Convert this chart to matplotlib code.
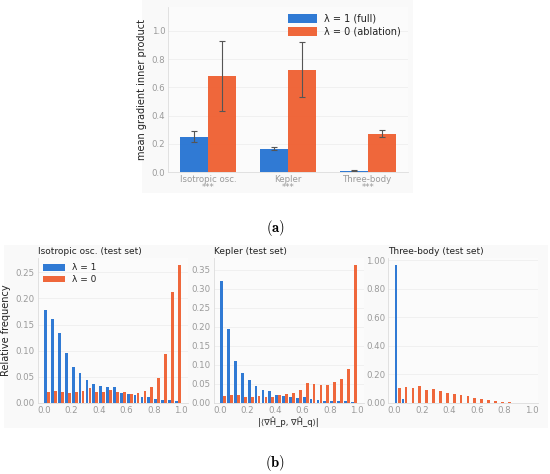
import numpy as np
import matplotlib
matplotlib.use("Agg")
import matplotlib.pyplot as plt
from matplotlib.patches import Rectangle

# ---- panel (a): mean gradient inner product ----
systems = ["Isotropic osc.", "Kepler", "Three-body"]
stars = ["***", "***", "***"]
full_mean = [0.25, 0.165, 0.010]
full_lo = [0.215, 0.155, 0.007]
full_hi = [0.290, 0.180, 0.013]
abl_mean = [0.68, 0.725, 0.27]
abl_lo = [0.435, 0.530, 0.250]
abl_hi = [0.930, 0.920, 0.295]

# ---- panel (b): histograms of |<grad H_p, grad H_q>| ----
bin_left = [i * 0.05 for i in range(20)]
iso_full = [0.177, 0.161, 0.134, 0.095, 0.068, 0.057, 0.044, 0.037, 0.032, 0.031,
            0.030, 0.020, 0.018, 0.015, 0.012, 0.011, 0.008, 0.006, 0.005, 0.003]
iso_abl = [0.021, 0.022, 0.021, 0.019, 0.021, 0.023, 0.028, 0.021, 0.021, 0.025,
           0.021, 0.021, 0.018, 0.019, 0.023, 0.030, 0.048, 0.093, 0.213, 0.264]
kep_full = [0.321, 0.194, 0.111, 0.080, 0.061, 0.046, 0.033, 0.031, 0.022, 0.018,
            0.017, 0.012, 0.015, 0.011, 0.007, 0.005, 0.004, 0.004, 0.004, 0.003]
kep_abl = [0.018, 0.021, 0.020, 0.017, 0.017, 0.018, 0.017, 0.016, 0.020, 0.024,
           0.025, 0.035, 0.052, 0.049, 0.047, 0.047, 0.054, 0.064, 0.090, 0.363]
tb_full = [0.967, 0.030, 0, 0, 0, 0, 0, 0, 0, 0,
           0, 0, 0, 0, 0, 0, 0, 0, 0, 0]
tb_abl = [0.105, 0.114, 0.103, 0.119, 0.089, 0.100, 0.082, 0.070, 0.061, 0.054,
          0.049, 0.037, 0.026, 0.019, 0.014, 0.009, 0.005, 0.003, 0.001, 0.0]

BLUE = "#1f6fd1"
ORANGE = "#ef5a2a"
TICK_C = "#9a9a9a"
TXT_C = "#222222"
BG = "#f9f9f9"

plt.rcParams["font.family"] = "DejaVu Sans"
plt.rcParams["mathtext.fontset"] = "cm"

W, H = 550, 474
fig = plt.figure(figsize=(W / 100, H / 100), dpi=100, facecolor="white")


def px_box(x0, y0, x1, y1):
    # pixel box (top-left origin) -> figure fraction [l, b, w, h]
    return [x0 / W, 1 - y1 / H, (x1 - x0) / W, (y1 - y0) / H]


# light panel backgrounds
for (x0, y0, x1, y1) in [(142, 0, 413, 193), (4, 245, 548, 428)]:
    l, b, w, h = px_box(x0, y0, x1, y1)
    fig.patches.append(Rectangle((l, b), w, h, transform=fig.transFigure,
                                 facecolor=BG, edgecolor="none", zorder=-10))


def style(ax, fs):
    ax.set_facecolor("#fbfbfb")
    for s in ["top", "right"]:
        ax.spines[s].set_visible(False)
    for s in ["left", "bottom"]:
        ax.spines[s].set_color("#dddddd")
        ax.spines[s].set_linewidth(0.6)
    ax.tick_params(colors=TICK_C, labelsize=fs, length=0, pad=2)
    ax.grid(axis="y", color="#eeeeee", linewidth=0.6)
    ax.set_axisbelow(True)


# ---- top panel ----
ax = fig.add_axes(px_box(168, 7, 408, 172))
style(ax, 6.2)
x = np.arange(len(systems))
bw = 0.35
ax.bar(x - bw / 2, full_mean, bw, color=BLUE, alpha=0.92, label="λ = 1 (full)")
ax.bar(x + bw / 2, abl_mean, bw, color=ORANGE, alpha=0.92, label="λ = 0 (ablation)")
ferr = [np.array(full_mean) - np.array(full_lo), np.array(full_hi) - np.array(full_mean)]
aerr = [np.array(abl_mean) - np.array(abl_lo), np.array(abl_hi) - np.array(abl_mean)]
ax.errorbar(x - bw / 2, full_mean, yerr=ferr, fmt="none", ecolor="#555555",
            elinewidth=0.8, capsize=2.5, capthick=0.8)
ax.errorbar(x + bw / 2, abl_mean, yerr=aerr, fmt="none", ecolor="#555555",
            elinewidth=0.8, capsize=2.5, capthick=0.8)
ax.set_xlim(-0.5, 2.5)
ax.set_ylim(0, 1.17)
ax.set_yticks([0.0, 0.2, 0.4, 0.6, 0.8, 1.0])
ax.set_yticklabels(["0.0", "0.2", "0.4", "0.6", "0.8", "1.0"])
ax.set_xticks(x)
ax.set_xticklabels([f"{s}\n{st}" for s, st in zip(systems, stars)], linespacing=0.9)
ax.set_ylabel("mean gradient inner product", fontsize=7, color=TXT_C, labelpad=3)
ax.legend(loc="upper right", frameon=False, fontsize=7, handlelength=2.9,
          handleheight=1.0, labelspacing=0.3, borderaxespad=0.3,
          labelcolor=TXT_C)

fig.text(275 / W, 1 - 228 / H, r"$(\mathbf{a})$", ha="center", va="center", fontsize=10.5)

# ---- bottom panels ----
panels = [
    ("Isotropic osc. (test set)", iso_full, iso_abl, 37.5, [0, 0.05, 0.10, 0.15, 0.20, 0.25], "%.2f"),
    ("Kepler (test set)", kep_full, kep_abl, 213.5, [0, 0.05, 0.10, 0.15, 0.20, 0.25, 0.30, 0.35], "%.2f"),
    ("Three-body (test set)", tb_full, tb_abl, 388, [0, 0.2, 0.4, 0.6, 0.8, 1.0], "%.2f"),
]
edges = np.array(bin_left)
for i, (title, full, abl, left, yt, fmt) in enumerate(panels):
    a = fig.add_axes(px_box(left, 258, left + 150, 403))
    style(a, 6.2)
    hw = 0.02
    a.bar(edges + 0.025 - 0.011, full, hw, color=BLUE, alpha=0.92, label="λ = 1")
    a.bar(edges + 0.025 + 0.011, abl, hw, color=ORANGE, alpha=0.92, label="λ = 0")
    a.set_xlim(-0.045, 1.045)
    a.set_xticks([0.0, 0.2, 0.4, 0.6, 0.8, 1.0])
    a.set_xticklabels(["0.0", "0.2", "0.4", "0.6", "0.8", "1.0"])
    a.set_yticks(yt)
    a.set_yticklabels([fmt % v for v in yt])
    a.set_title(title, fontsize=6.5, color=TXT_C, loc="left", pad=3)
    if i == 0:
        a.set_ylabel("Relative frequency", fontsize=7, color=TXT_C, labelpad=3)
        a.legend(loc="upper left", frameon=False, fontsize=6.5, handlelength=2.4,
                 handleheight=0.8, labelspacing=0.3, borderaxespad=0.2,
                 labelcolor=TXT_C)
    if i == 1:
        a.set_xlabel("|⟨∇Ĥ_p, ∇Ĥ_q⟩|", fontsize=6, color=TXT_C, labelpad=1)

fig.text(275 / W, 1 - 463 / H, r"$(\mathbf{b})$", ha="center", va="center", fontsize=10.5)

fig.savefig("out.png", dpi=100, facecolor="white")
